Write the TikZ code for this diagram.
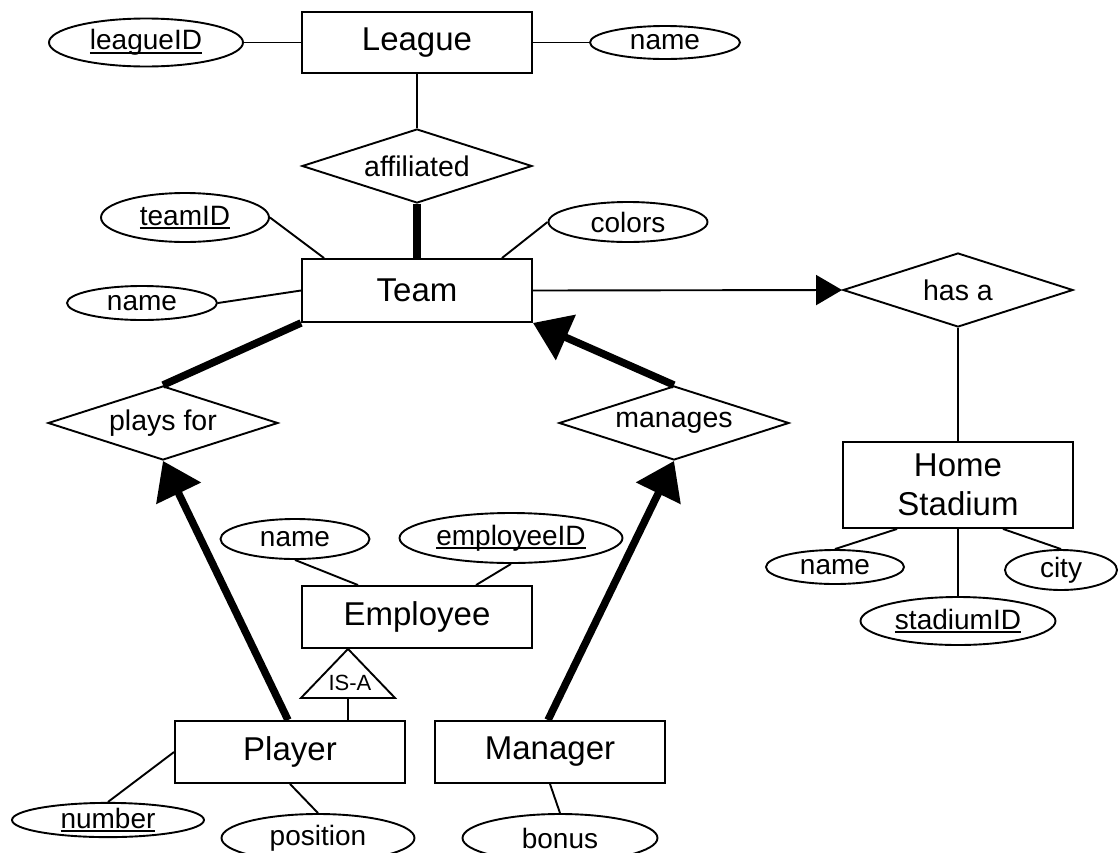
\documentclass[tikz,border=0pt]{standalone}
\usepackage{fontspec}
\setmainfont{Liberation Sans}
\usetikzlibrary{shapes.geometric,arrows.meta}
\newsavebox\keybox
\newcommand\keyattr[1]{\sbox\keybox{#1}\rlap{\rule[-0.14em]{\wd\keybox}{0.06em}}\usebox\keybox}
\begin{document}
\begin{tikzpicture}[x=1pt,y=-1pt,
  ln/.style={line width=1.9pt},
  ent/.style={draw, line width=1.9pt, rectangle, inner sep=0pt, minimum width=230pt, minimum height=62pt, font=\fontsize{33}{39}\selectfont, align=center},
  att/.style={draw, line width=1.9pt, ellipse, inner sep=0pt, font=\fontsize{28}{32}\selectfont},
  rel/.style={draw, line width=1.9pt, diamond, aspect=3.1, inner sep=0pt, minimum width=230pt, minimum height=74pt, font=\fontsize{28.5}{32}\selectfont},
  thk/.style={line width=7.5pt},
  bigtip/.style={-{Triangle[length=36pt,width=48pt]}},
  smalltip/.style={-{Triangle[length=26pt,width=30pt]}},
]
\useasboundingbox (0,0) rectangle (1119,852);
% entities
\node[ent, minimum height=61pt] (league) at (417,42.5) {League};
\node[ent, minimum height=63pt] (team) at (417,290.5) {Team};
\node[ent, minimum height=86pt] (hs) at (958,485) {Home\\Stadium};
\node[ent] (emp) at (417,617) {Employee};
\node[ent] (ply) at (290,752) {Player};
\node[ent] (mgr) at (550,752) {Manager};
% relationships
\node[rel] (aff) at (417,166) {affiliated};
\node[rel] (hasa) at (958,290) {has a};
\node[rel] (plays) at (163,423) {plays for};
\node[rel] (man) at (674,423) {manages};
% attributes
\node[att, minimum width=194pt, minimum height=48pt] (lid) at (146,42.5) {\keyattr{leagueID}};
\node[att, minimum width=150pt, minimum height=33pt] (lname) at (665,42.5) {name};
\node[att, minimum width=168pt, minimum height=49pt] (tid) at (185,217.5) {\keyattr{teamID}};
\node[att, minimum width=150pt, minimum height=34pt] (tname) at (142,303) {name};
\node[att, minimum width=159pt, minimum height=40pt] (colors) at (628,222) {colors};
\node[att, minimum width=138pt, minimum height=34pt] (sname) at (835,567) {name};
\node[att, minimum width=195pt, minimum height=48pt] (sid) at (958,621) {\keyattr{stadiumID}};
\node[att, minimum width=112pt, minimum height=40pt] (city) at (1061,570) {city};
\node[att, minimum width=149pt, minimum height=40pt] (ename) at (295,539) {name};
\node[att, minimum width=223pt, minimum height=50pt] (eid) at (511,538) {\keyattr{employeeID}};
\node[att, minimum width=192pt, minimum height=34pt] (num) at (108,820) {\keyattr{number}};
\node[att, minimum width=193pt, minimum height=48pt] (pos) at (318,838) {position};
\node[att, minimum width=195pt, minimum height=48pt] (bonus) at (560,838) {bonus};
% IS-A triangle
\coordinate (apex) at ([xshift=-69pt]emp.south);
\draw[ln, line join=miter] (apex) -- ++(47,49) -- ++(-94,0) -- cycle;
\coordinate (isab) at ([yshift=-49pt]apex);
\node[font=\fontsize{22}{24}\selectfont, inner sep=0pt] (isa) at ([xshift=2pt,yshift=-34pt]apex) {IS-A};
\draw[ln] (isab) -- (isab |- ply.north);
% attribute connectors
\draw[ln] (lid.east) -- (league.west);
\draw[ln] (league.east) -- (lname.west);
\draw[ln] (tid.east) -- ([xshift=23pt]team.north west);
\draw[ln] (tname.east) -- (team.west);
\draw[ln] (colors.west) -- ([xshift=-31pt]team.north east);
\draw[ln] (sname.north) -- ([xshift=-61pt]hs.south);
\draw[ln] (sid.north) -- (hs.south);
\draw[ln] (city.north) -- ([xshift=45pt]hs.south);
\draw[ln] (ename.south) -- ([xshift=-59pt]emp.north);
\draw[ln] (eid.south) -- ([xshift=59pt]emp.north);
\draw[ln] (num.north) -- (ply.west);
\draw[ln] (pos.north) -- (ply.south);
\draw[ln] (bonus.north) -- (mgr.south);
% relationship connectors
\draw[ln] (league.south) -- (aff.north);
\draw[thk] (aff.south) -- (team.north);
\draw[ln, smalltip] (team.east) -- (hasa.west);
\draw[ln] (hasa.south) -- (hs.north);
\draw[thk] (plays.north) -- (team.south west);
\draw[thk, bigtip] (man.north) -- (team.south east);
\draw[thk, bigtip] ([xshift=-2pt]ply.north) -- (plays.south);
\draw[thk, bigtip] ([xshift=-2pt]mgr.north) -- (man.south);
\end{tikzpicture}
\end{document}
